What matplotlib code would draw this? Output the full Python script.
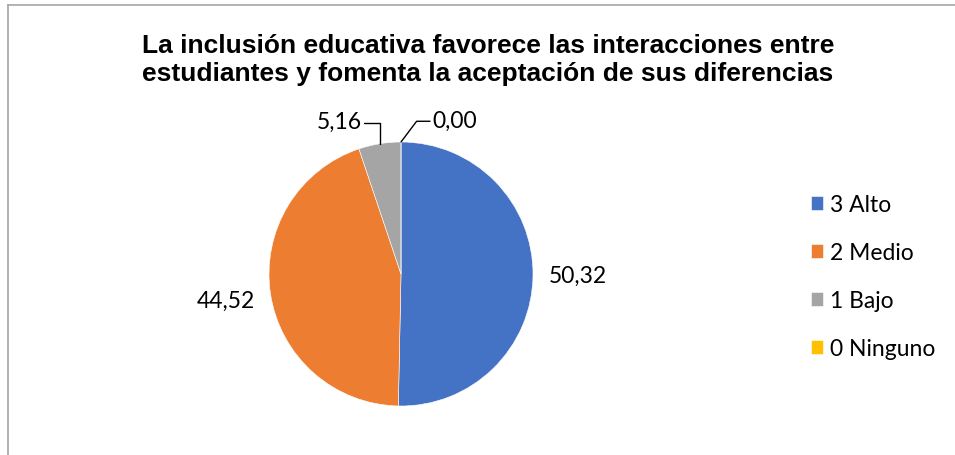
import matplotlib.pyplot as plt
from matplotlib.lines import Line2D
import numpy as np

# datos del grafico
categorias = ['3 Alto', '2 Medio', '1 Bajo', '0 Ninguno']
valores = [50.32, 44.52, 5.16, 0.00]
etiquetas = ['50,32', '44,52', '5,16', '0,00']
colores = ['#4472C4', '#ED7D31', '#A5A5A5', '#FFC000']
titulo = 'La inclusión educativa favorece las interacciones entre\nestudiantes y fomenta la aceptación de sus diferencias'

W, H = 955, 456
fig = plt.figure(figsize=(W / 100, H / 100), dpi=100)

# marco gris (cortado a la derecha y abajo)
fig.add_artist(Line2D([8 / W, 8 / W], [0, 1 - 6 / H], transform=fig.transFigure, color='#A6A6A6', lw=1.2))
fig.add_artist(Line2D([8 / W, 1], [1 - 6 / H, 1 - 6 / H], transform=fig.transFigure, color='#A6A6A6', lw=1.2))

fig.text(488 / W, 1 - 60 / H, titulo, ha='center', va='center', fontsize=19, fontweight='bold',
         family='Liberation Sans', linespacing=1.17)

cx, cy, r = 401, 275, 132
ax = fig.add_axes([(cx - r) / W, (H - cy - r) / H, 2 * r / W, 2 * r / H])
wedges, _ = ax.pie(valores, colors=colores, startangle=90, counterclock=False, radius=1,
                   wedgeprops=dict(edgecolor='white', linewidth=0.4))
ax.set_xlim(-1, 1)
ax.set_ylim(-1, 1)
ax.set_aspect('equal')
ax.axis('off')

lab_font = dict(fontsize=16.5, family='Lato', color='#000000')
for i, w in enumerate(wedges):
    ang = np.deg2rad((w.theta1 + w.theta2) / 2)
    if i < 2:
        ax.text(1.34 * np.cos(ang), 1.34 * np.sin(ang), etiquetas[i], ha='center', va='center', **lab_font)
    elif i == 2:
        ax.annotate(etiquetas[i], xy=(np.cos(ang), np.sin(ang)), xytext=(-0.47, 1.155),
                    ha='center', va='center', annotation_clip=False, **lab_font,
                    arrowprops=dict(arrowstyle='-', color='black', lw=1.0, shrinkA=0, shrinkB=0,
                                    relpos=(1, 0.45),
                                    connectionstyle='angle,angleA=0,angleB=90,rad=0'))
    else:
        ax.annotate(etiquetas[i], xy=(np.cos(ang), np.sin(ang)), xytext=(0.41, 1.165),
                    ha='center', va='center', annotation_clip=False, **lab_font,
                    arrowprops=dict(arrowstyle='-', color='black', lw=1.0, shrinkA=0, shrinkB=0,
                                    relpos=(0, 0.45),
                                    connectionstyle='angle,angleA=0,angleB=53,rad=0'))

leg = fig.legend(wedges, categorias, loc='upper left', bbox_to_anchor=(811 / W, 1 - 195 / H),
                 frameon=False, prop={'family': 'Lato', 'size': 16.5}, labelspacing=1.18,
                 handlelength=0.52, handleheight=0.52, handletextpad=0.3,
                 borderpad=0, borderaxespad=0)

fig.savefig('out.png', dpi=100)
